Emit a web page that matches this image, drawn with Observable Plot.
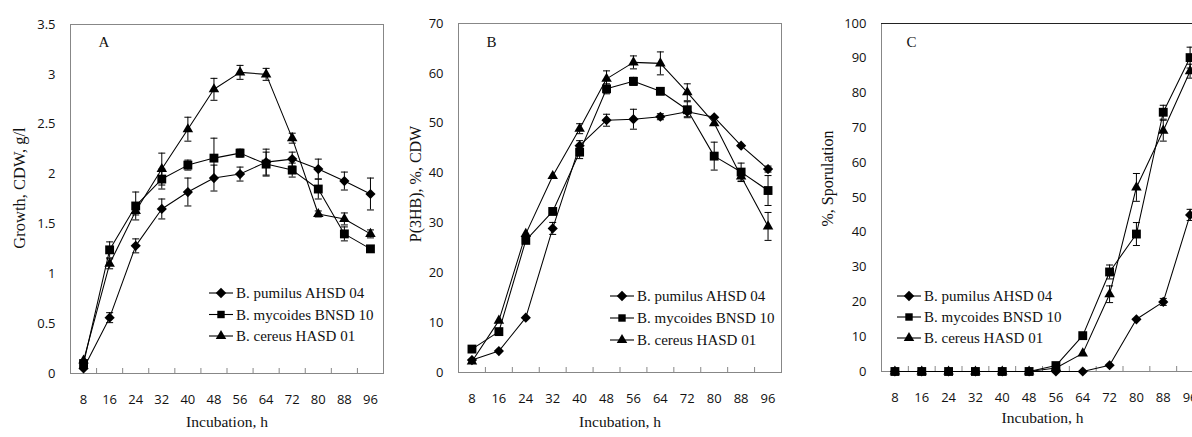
<!DOCTYPE html>
<html>
<head>
<meta charset="utf-8">
<script src="https://cdn.jsdelivr.net/npm/d3@7"></script>
<script src="https://cdn.jsdelivr.net/npm/@observablehq/plot@0.6"></script>
<style>
  html, body { margin: 0; padding: 0; background: #fff; overflow: hidden; }
  #wrap { position: relative; width: 1192px; height: 437px; overflow: hidden; background: #fff; }
  .panel { position: absolute; top: 0; }
  .panel svg { max-width: none !important; }
</style>
</head>
<body>
<div id="wrap"></div>
<script>
// ---------- data ----------
const hours = [8, 16, 24, 32, 40, 48, 56, 64, 72, 80, 88, 96];
const seriesNames = ["B. pumilus AHSD 04", "B. mycoides BNSD 10", "B. cereus HASD 01"];

// Panel A: Growth, CDW, g/l
const growthPumilus     = [0.05, 0.56, 1.28, 1.65, 1.82, 1.96, 2.00, 2.12, 2.15, 2.05, 1.93, 1.80];
const growthPumilusErr  = [0, 0.05, 0.07, 0.10, 0.14, 0.13, 0.07, 0.13, 0.07, 0.10, 0.09, 0.16];
const growthMycoides    = [0.10, 1.24, 1.68, 1.95, 2.09, 2.16, 2.21, 2.10, 2.04, 1.85, 1.40, 1.25];
const growthMycoidesErr = [0, 0.08, 0.14, 0.10, 0.05, 0.20, 0.04, 0.12, 0.07, 0.10, 0.07, 0.03];
const growthCereus      = [0.13, 1.10, 1.63, 2.05, 2.45, 2.85, 3.02, 3.00, 2.36, 1.60, 1.55, 1.40];
const growthCereusErr   = [0, 0.05, 0.04, 0.16, 0.12, 0.11, 0.07, 0.06, 0.05, 0.03, 0.06, 0.04];

// Panel B: P(3HB), %, CDW
const phbPumilus     = [2.5, 4.3, 11.0, 28.9, 45.5, 50.6, 50.8, 51.3, 52.3, 51.2, 45.5, 40.8];
const phbPumilusErr  = [0, 0, 0, 1.2, 1.0, 1.2, 2.0, 0.6, 1.0, 0, 0, 0.6];
const phbMycoides    = [4.7, 8.2, 26.5, 32.3, 44.2, 56.9, 58.4, 56.4, 52.7, 43.4, 40.2, 36.5];
const phbMycoidesErr = [0, 0, 0, 0, 1.3, 1.0, 0.8, 0, 1.6, 2.8, 1.8, 3.0];
const phbCereus      = [2.2, 10.4, 27.8, 39.4, 48.9, 58.9, 62.2, 62.0, 56.2, 50.0, 39.3, 29.3];
const phbCereusErr   = [0, 0, 0, 0, 1.0, 1.6, 1.3, 2.3, 1.7, 0, 1.0, 2.8];

// Panel C: %, Sporulation
const sporPumilus     = [0, 0, 0, 0, 0, 0, 0, 0, 1.8, 15.0, 20.0, 45.0];
const sporPumilusErr  = [0, 0, 0, 0, 0, 0, 0, 0, 0, 0, 1.0, 1.6];
const sporMycoides    = [0, 0, 0, 0, 0, 0, 1.7, 10.3, 28.6, 39.5, 74.5, 90.2];
const sporMycoidesErr = [0, 0, 0, 0, 0, 0, 0, 0, 2.0, 3.3, 2.0, 3.0];
const sporCereus      = [0, 0, 0, 0, 0, 0, 1.0, 5.2, 22.2, 52.9, 69.2, 86.3];
const sporCereusErr   = [0, 0, 0, 0, 0, 0, 0, 0, 2.4, 4.0, 3.0, 2.0];

const yTicksA = [0, 0.5, 1, 1.5, 2, 2.5, 3, 3.5];
const yTicksB = [0, 10, 20, 30, 40, 50, 60, 70];
const yTicksC = [0, 10, 20, 30, 40, 50, 60, 70, 80, 90, 100];

// ---------- helpers ----------
const boundaries = hours.slice(1).map(h => h - 4);
const symbolNames = ["diamond2", "square", "triangle"];
const symbolR = [4.6, 5.0, 3.9];
const d3Symbols = [d3.symbolDiamond2, d3.symbolSquare, d3.symbolTriangle];
const SERIF = "'Liberation Serif', 'Times New Roman', serif";
const SANS = "'Open Sans', 'Noto Sans', sans-serif";
const AXIS_GREY = "#878787";
const capSymbol = { draw(ctx) { ctx.moveTo(-3.5, 0); ctx.lineTo(3.5, 0); } };

function rows(values, errs, si) {
  return hours.map((h, i) => ({ hour: h, value: values[i], err: errs[i], series: seriesNames[si] }));
}

function panel(cfg) {
  const H = 437;
  const innerH = H - cfg.mt - cfg.mb;
  const data = cfg.series.map(([v, e], si) => rows(v, e, si));
  const errRows = data.flat().filter(d => d.err > 0);
  const marks = [
    Plot.frame({ stroke: AXIS_GREY, strokeWidth: 1 }),
    ...(cfg.topBlack ? [Plot.ruleY([cfg.yMax], { stroke: "#222" })] : []),
    Plot.ruleX(boundaries, { stroke: AXIS_GREY, insetTop: innerH - 5 }),
    Plot.axisY({ ticks: cfg.yTicks, tickSize: 0, tickPadding: 15, tickFormat: d => String(d), label: null, fontSize: 13, fontFamily: SANS, fill: "#111" }),
    Plot.axisX({ ticks: hours, tickSize: 0, tickPadding: 21, tickFormat: d => String(d), label: null, fontSize: 13, fontFamily: SANS, fill: "#111" }),
    Plot.ruleX(errRows, { x: "hour", y1: d => d.value - d.err, y2: d => d.value + d.err, stroke: "black", strokeWidth: 1 }),
    Plot.dot(errRows, { x: "hour", y: d => d.value + d.err, symbol: capSymbol, stroke: "black", fill: "none", strokeWidth: 1 }),
    Plot.dot(errRows, { x: "hour", y: d => d.value - d.err, symbol: capSymbol, stroke: "black", fill: "none", strokeWidth: 1 }),
    ...data.map(d => Plot.line(d, { x: "hour", y: "value", stroke: "black", strokeWidth: 1.05 })),
    ...data.map((d, si) => Plot.dot(d, { x: "hour", y: "value", symbol: symbolNames[si], r: symbolR[si], fill: "black", stroke: "none" })),
    Plot.text([cfg.letter], { frameAnchor: "top-left", textAnchor: "start", lineAnchor: "middle", dx: cfg.letterDx, dy: cfg.letterDy, fontFamily: SERIF, fontSize: 15, fill: "#111" }),
    Plot.text([cfg.xTitle], { frameAnchor: "bottom", textAnchor: "middle", lineAnchor: "middle", dy: cfg.xTitleDy, fontFamily: SERIF, fontSize: 15.5, fill: "#111" }),
    Plot.text([cfg.yTitle], { frameAnchor: "left", textAnchor: "middle", lineAnchor: "middle", rotate: -90, dx: cfg.yTitleDx, dy: cfg.yTitleDy, fontFamily: SERIF, fontSize: cfg.yTitleSize, fill: "#111" })
  ];
  const svg = Plot.plot({
    width: cfg.width, height: H,
    marginLeft: cfg.ml, marginRight: cfg.mr, marginTop: cfg.mt, marginBottom: cfg.mb,
    x: { type: "linear", domain: [4, 100] },
    y: { type: "linear", domain: [0, cfg.yMax] },
    style: { background: "transparent", overflow: "visible", fontFamily: SANS },
    marks
  });
  // legend (drawn in pixel space inside the plot's SVG)
  const g = d3.select(svg).append("g").attr("text-anchor", "start");
  seriesNames.forEach((name, i) => {
    const y = cfg.legend.y0 + i * cfg.legend.dy;
    const x0 = cfg.legend.x0;
    g.append("line").attr("x1", x0).attr("x2", x0 + 24).attr("y1", y).attr("y2", y)
      .attr("stroke", "black").attr("stroke-width", 1.1);
    const size = [70, 55, 48][i];
    g.append("path").attr("d", d3.symbol(d3Symbols[i], size)()).attr("transform", `translate(${x0 + 12},${y})`).attr("fill", "black");
    g.append("text").attr("x", x0 + 27).attr("y", y).attr("dy", "0.35em").attr("text-anchor", "start")
      .attr("font-family", SERIF).attr("font-size", 15).attr("fill", "#111").text(name);
  });
  const div = document.createElement("div");
  div.className = "panel";
  div.style.left = cfg.left + "px";
  div.style.width = cfg.width + "px";
  div.style.height = H + "px";
  div.appendChild(svg);
  document.getElementById("wrap").appendChild(div);
}

panel({
  left: 0, width: 390, ml: 70, mr: 7, mt: 24, mb: 64,
  yMax: 3.5, yTicks: yTicksA, letter: "A", letterDx: 28, letterDy: 18,
  xTitle: "Incubation, h", xTitleDy: 49, yTitle: "Growth, CDW, g/l", yTitleDx: -51, yTitleDy: -11, yTitleSize: 16.5,
  series: [[growthPumilus, growthPumilusErr], [growthMycoides, growthMycoidesErr], [growthCereus, growthCereusErr]],
  legend: { x0: 209, y0: 293, dy: 21.5 }
});
panel({
  left: 390, width: 400, ml: 68, mr: 9, mt: 23, mb: 65,
  yMax: 70, yTicks: yTicksB, letter: "B", letterDx: 28, letterDy: 19,
  xTitle: "Incubation, h", xTitleDy: 50, yTitle: "P(3HB), %, CDW", yTitleDx: -43, yTitleDy: -14, yTitleSize: 16,
  series: [[phbPumilus, phbPumilusErr], [phbMycoides, phbMycoidesErr], [phbCereus, phbCereusErr]],
  legend: { x0: 220, y0: 296, dy: 22 }
});
panel({
  left: 790, width: 420, ml: 91, mr: 7, mt: 23, mb: 66,
  yMax: 100, yTicks: yTicksC, letter: "C", letterDx: 25, letterDy: 19,
  xTitle: "Incubation, h", xTitleDy: 47, yTitle: "%, Sporulation", yTitleDx: -54, yTitleDy: -19, yTitleSize: 16,
  topBlack: true,
  series: [[sporPumilus, sporPumilusErr], [sporMycoides, sporMycoidesErr], [sporCereus, sporCereusErr]],
  legend: { x0: 107, y0: 296, dy: 21 }
});
</script>
</body>
</html>
